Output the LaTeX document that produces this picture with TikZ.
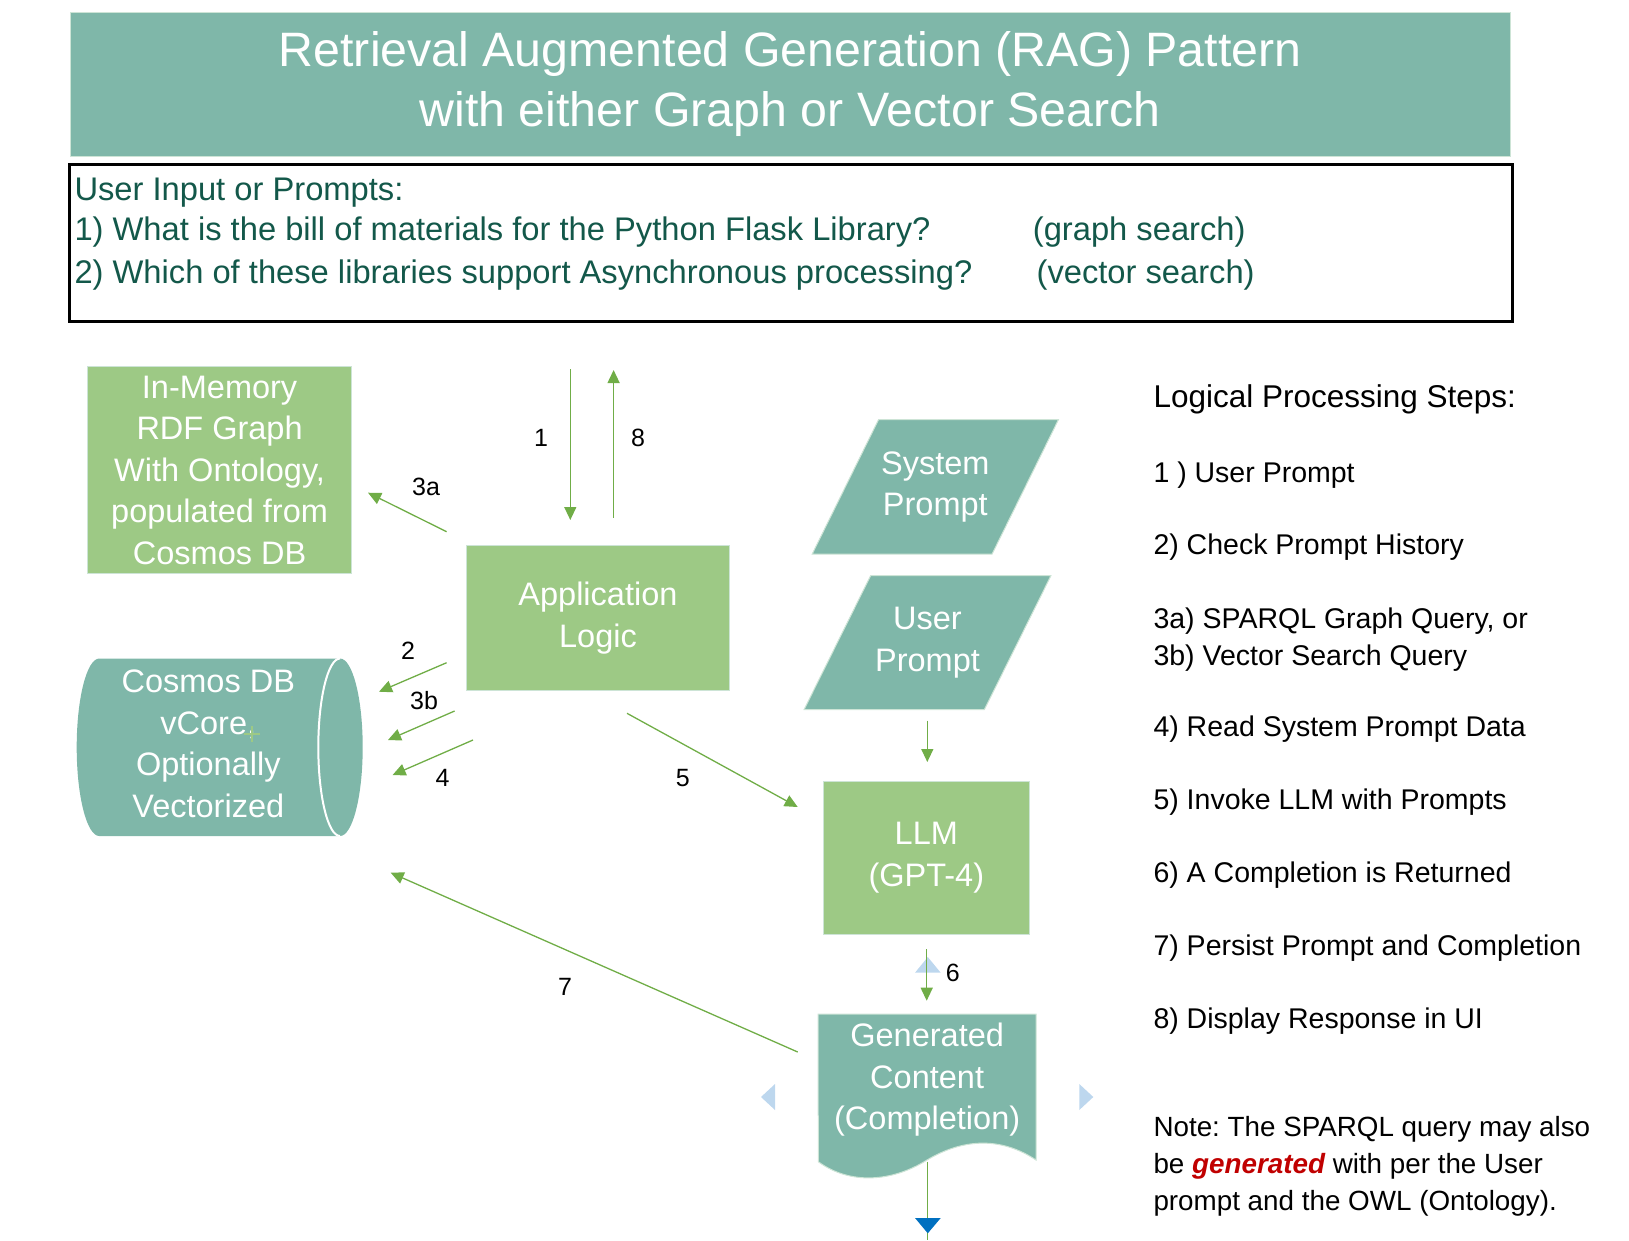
\documentclass[tikz,border=0pt]{standalone}
\usepackage{fontspec}
\setmainfont{Liberation Sans}
\usepackage{xcolor}
\definecolor{RAG-teal}{RGB}{127,183,169}
\definecolor{RAG-green}{RGB}{157,201,133}
\definecolor{RAG-edge}{RGB}{205,228,214}
\definecolor{RAG-arrow}{RGB}{112,173,71}
\definecolor{RAG-ink}{RGB}{19,88,74}
\definecolor{RAG-lightblue}{RGB}{189,215,238}
\definecolor{RAG-blue}{RGB}{0,112,192}
\definecolor{RAG-red}{RGB}{192,0,0}
\usetikzlibrary{backgrounds,arrows.meta}
\frenchspacing

\begin{document}
\begin{tikzpicture} [ % 先定义样式
            x=1pt, y=-1pt, >={Triangle[length=13pt,width=12pt]},
            plain/.style = {draw=none, inner sep=0pt, text=black},
            box-green/.style = {rectangle, fill=RAG-green, draw=RAG-edge, line width=1pt, text=white, align=center, inner sep=0pt, font=\fontsize{32.5}{41.5}\selectfont},
            box-teal/.style = {rectangle, draw=none, inner sep=0pt, text=white, align=center, font=\fontsize{32.5}{41.5}\selectfont},
            num-label/.style = {plain, font=\fontsize{25}{28}\selectfont},
            step-text/.style = {plain, anchor=base west, font=\fontsize{28.5}{36.7}\selectfont},
            note-text/.style = {step-text, font=\fontsize{27.8}{36.7}\selectfont},
            query-text/.style = {plain, anchor=base west, text=RAG-ink, font=\fontsize{32.7}{40}\selectfont},
            link/.style = {->, draw=RAG-arrow, line width=1.3pt}
        ]

        % 宏
        \pgfmathsetmacro{\s}{66.5}; % 平行四边形的水平偏移

        \useasboundingbox (0,0) rectangle (1629,1240);

        % 标题
        \node [rectangle, fill=RAG-teal, draw=RAG-edge, line width=1pt, minimum width=1440pt, minimum height=143.3pt, inner sep=0pt, text=white, align=center, font=\fontsize{48.3}{60}\selectfont] (title) at (790.2,84.35) {Retrieval Augmented Generation (RAG) Pattern\\with either Graph or Vector Search};

        % 输入框
        \node [rectangle, draw=black, line width=2.5pt, fill=white, minimum width=1443pt, minimum height=157pt, inner sep=0pt] (input) at (790.75,243.2) {};
        \node [query-text] (q0) at (74.3,200.5) {User Input or Prompts:};
        \node [query-text] (q1) at (74.3,240.3) {1) What is the bill of materials for the Python Flask Library?};
        \node [query-text] (q2) at (74.3,283.2) {2) Which of these libraries support Asynchronous processing?};
        \node [query-text] (q1tag) at (1032.7,240.3) {(graph search)};
        \node [query-text] (q2tag) at (1036.4,283.2) {(vector search)};

        % 方框
        \node [box-green, minimum width=263.8pt, minimum height=206.6pt] (rdf) at (219.6,470) {In-Memory\\RDF Graph\\With Ontology,\\populated from\\Cosmos DB};
        \node [box-green, minimum width=263.3pt, minimum height=144.3pt] (app) at (597.95,617.85) {Application\\Logic};
        \node [box-green, minimum width=206pt, minimum height=153pt] (llm) at (926.3,857.5) {LLM\\(GPT-4)};
        \node [box-teal] (cosmos) at (208.3,744) {Cosmos DB\\vCore,\\Optionally\\Vectorized};
        \node [box-teal, minimum width=246pt, minimum height=134.3pt] (sysp) at (935.3,486.85) {System\\Prompt};
        \node [box-teal, minimum width=246.4pt, minimum height=133.4pt] (userp) at (927.5,642.6) {User\\Prompt};
        \node [box-teal, minimum width=217.7pt, minimum height=130.8pt] (gen) at (927.15,1079.7) {Generated\\Content\\(Completion)};

        % 底色形状
        \begin{scope}[on background layer]
            \filldraw [fill=RAG-teal, draw=RAG-edge, line width=1pt] (sysp.south west) -- ([xshift=\s pt]sysp.north west) -- (sysp.north east) -- ([xshift=-\s pt]sysp.south east) -- cycle;
            \filldraw [fill=RAG-teal, draw=RAG-edge, line width=1pt] (userp.south west) -- ([xshift=\s pt]userp.north west) -- (userp.north east) -- ([xshift=-\s pt]userp.south east) -- cycle;
            \filldraw [fill=RAG-teal, draw=RAG-edge, line width=1pt] (gen.north west) -- (gen.north east) -- (1036,1160) .. controls (1000,1136) and (962,1139) .. (927,1160) .. controls (892,1182) and (850,1185) .. (818.3,1161.7) -- cycle;
            \fill [RAG-teal] (99.3,658.5) -- (340,658.5) arc [start angle=90, end angle=-90, x radius=22.7pt, y radius=88.75pt] -- (99.3,836) arc [start angle=270, end angle=90, x radius=22.6pt, y radius=88.75pt] -- cycle;
            \draw [white, line width=2pt] (340,658.5) arc [start angle=90, end angle=270, x radius=21.7pt, y radius=88.75pt];
        \end{scope}
        \draw [RAG-green, line width=2pt] (243.7,734) -- (259.7,734) (251.7,726) -- (251.7,742);

        % 箭头端点
        \path (570.3,369) coordinate (in1);
        \path (570.3,520) coordinate (out1);
        \path (613.6,517.7) coordinate (in8);
        \path (613.6,370) coordinate (out8);
        \path (446.6,531.7) coordinate (in3a);
        \path (368,492.7) coordinate (out3a);
        \path (446.6,662.7) coordinate (in2);
        \path (379,691.7) coordinate (out2);
        \path (454.6,711) coordinate (in3b);
        \path (388,740) coordinate (out3b);
        \path (473,740) coordinate (in4);
        \path (392.6,775) coordinate (out4);
        \path (627,713.3) coordinate (in5);
        \path (797.7,807) coordinate (out5);
        \path (927.3,720.7) coordinate (inu);
        \path (927.3,762) coordinate (outu);
        \path (926.7,949.3) coordinate (in6);
        \path (926.7,1000.7) coordinate (out6);
        \path (797.7,1052) coordinate (in7);
        \path (390.7,872.7) coordinate (out7);
        \path (927.7,1161.7) coordinate (ine);
        \path (927.7,1240) coordinate (oute);

        % 蓝色小三角
        \fill [RAG-lightblue] (915,972.7) -- (927.8,957) -- (940.7,972.7) -- cycle;
        \fill [RAG-lightblue] (761,1097) -- (775,1084) -- (775,1110) -- cycle;
        \fill [RAG-lightblue] (1093.3,1097) -- (1079.3,1084) -- (1079.3,1110) -- cycle;

        % 连线
        \draw [link] (in1) -- (out1);
        \draw [link] (in8) -- (out8);
        \draw [link] (in3a) -- (out3a);
        \draw [link] (in2) -- (out2);
        \draw [link] (in3b) -- (out3b);
        \draw [link] (in4) -- (out4);
        \draw [link] (in5) -- (out5);
        \draw [link] (inu) -- (outu);
        \draw [link] (in6) -- (out6);
        \draw [link] (in7) -- (out7);
        \draw [draw=RAG-arrow, line width=1.3pt] (ine) -- (oute);
        \fill [RAG-blue] (915,1218) -- (940.7,1218) -- (927.8,1233.3) -- cycle;

        % 编号
        \node [num-label] (n1) at (541,438.3) {1};
        \node [num-label] (n8) at (638,438.3) {8};
        \node [num-label] (n3a) at (426,486.7) {3a};
        \node [num-label] (n2) at (408,650.7) {2};
        \node [num-label] (n3b) at (424,701) {3b};
        \node [num-label] (n4) at (442.6,778.3) {4};
        \node [num-label] (n5) at (682.8,778.3) {5};
        \node [num-label] (n6) at (952.7,973.3) {6};
        \node [num-label] (n7) at (565,986.7) {7};

        % 右侧步骤
        \node [step-text, font=\fontsize{31.5}{36.7}\selectfont] (steps) at (1153.3,407.7) {Logical Processing Steps:};
        \node [step-text] (s1) at (1153.3,482.3) {1 ) User Prompt};
        \node [step-text] (s2) at (1153.3,554.3) {2) Check Prompt History};
        \node [step-text] (s3a) at (1153.3,628.3) {3a) SPARQL Graph Query, or};
        \node [step-text] (s3b) at (1153.3,665) {3b) Vector Search Query};
        \node [step-text] (s4) at (1153.3,736.7) {4) Read System Prompt Data};
        \node [step-text] (s5) at (1153.3,809.3) {5) Invoke LLM with Prompts};
        \node [step-text] (s6) at (1153.3,882.7) {6) A Completion is Returned};
        \node [step-text] (s7) at (1153.3,955.7) {7) Persist Prompt and Completion};
        \node [step-text] (s8) at (1153.3,1028.3) {8) Display Response in UI};
        \node [note-text] (note1) at (1153.3,1136) {Note: The SPARQL query may also};
        \node [note-text] (note2) at (1153.3,1173.3) {be \textcolor{RAG-red}{\bfseries\itshape generated} with per the User};
        \node [note-text] (note3) at (1153.3,1210) {prompt and the OWL (Ontology).};

    \end{tikzpicture}
\end{document}
